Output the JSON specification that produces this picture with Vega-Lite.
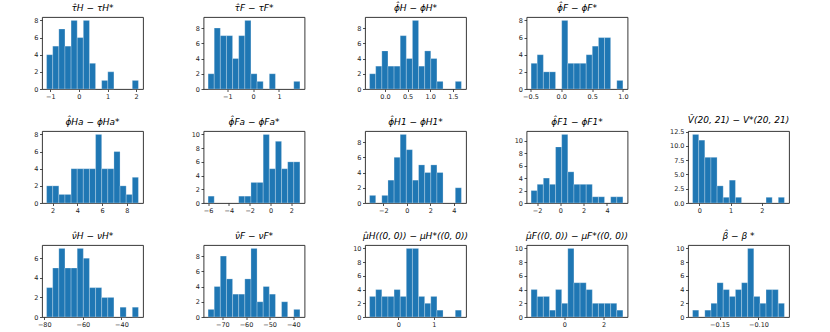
{
"$schema": "https://vega.github.io/schema/vega-lite/v6.json",
"padding": {"left": 33, "top": 3, "right": 5, "bottom": 5},
"background": "white",
"config": {
  "view": {"stroke": "#222", "strokeWidth": 0.9},
  "axis": {"domain": false, "grid": false, "tickColor": "#222", "tickSize": 2.5, "tickWidth": 0.8, "labelFontSize": 6.5, "labelColor": "#222", "labelFont": "DejaVu Sans", "labelPadding": 1.5, "title": null},
  "title": {"font": "DejaVu Sans", "fontSize": 9, "fontWeight": "normal", "fontStyle": "italic", "color": "#000", "offset": 4},
  "bar": {"color": "#1f77b4", "stroke": "#ffffff", "strokeOpacity": 0.35, "strokeWidth": 0.7}
},
"data": {"values": [
{"p":"A","x0":-1.13,"x1":-0.916,"c":4},{"p":"A","x0":-0.916,"x1":-0.702,"c":5},{"p":"A","x0":-0.702,"x1":-0.488,"c":7},{"p":"A","x0":-0.488,"x1":-0.274,"c":5},{"p":"A","x0":-0.274,"x1":-0.06,"c":8},{"p":"A","x0":-0.06,"x1":0.154,"c":6},{"p":"A","x0":0.154,"x1":0.368,"c":8},{"p":"A","x0":0.368,"x1":0.582,"c":3},{"p":"A","x0":0.796,"x1":1.01,"c":1},{"p":"A","x0":1.01,"x1":1.224,"c":2},{"p":"A","x0":1.866,"x1":2.08,"c":1},
{"p":"B","x0":-1.74,"x1":-1.503,"c":2},{"p":"B","x0":-1.503,"x1":-1.267,"c":8},{"p":"B","x0":-1.267,"x1":-1.03,"c":7},{"p":"B","x0":-1.03,"x1":-0.793,"c":7},{"p":"B","x0":-0.793,"x1":-0.557,"c":4},{"p":"B","x0":-0.557,"x1":-0.32,"c":7},{"p":"B","x0":-0.32,"x1":-0.083,"c":9},{"p":"B","x0":-0.083,"x1":0.153,"c":2},{"p":"B","x0":0.153,"x1":0.39,"c":1},{"p":"B","x0":0.627,"x1":0.863,"c":2},{"p":"B","x0":1.573,"x1":1.81,"c":1},
{"p":"C","x0":-0.34,"x1":-0.205,"c":2},{"p":"C","x0":-0.205,"x1":-0.069,"c":3},{"p":"C","x0":-0.069,"x1":0.066,"c":5},{"p":"C","x0":0.066,"x1":0.201,"c":3},{"p":"C","x0":0.201,"x1":0.337,"c":3},{"p":"C","x0":0.337,"x1":0.472,"c":7},{"p":"C","x0":0.472,"x1":0.607,"c":4},{"p":"C","x0":0.607,"x1":0.743,"c":9},{"p":"C","x0":0.743,"x1":0.878,"c":3},{"p":"C","x0":0.878,"x1":1.013,"c":5},{"p":"C","x0":1.013,"x1":1.149,"c":4},{"p":"C","x0":1.149,"x1":1.284,"c":1},{"p":"C","x0":1.555,"x1":1.69,"c":1},
{"p":"D","x0":-0.49,"x1":-0.391,"c":3},{"p":"D","x0":-0.391,"x1":-0.291,"c":4},{"p":"D","x0":-0.291,"x1":-0.192,"c":2},{"p":"D","x0":-0.192,"x1":-0.093,"c":2},{"p":"D","x0":0.007,"x1":0.106,"c":8},{"p":"D","x0":0.106,"x1":0.205,"c":3},{"p":"D","x0":0.205,"x1":0.305,"c":3},{"p":"D","x0":0.305,"x1":0.404,"c":3},{"p":"D","x0":0.404,"x1":0.503,"c":4},{"p":"D","x0":0.503,"x1":0.603,"c":5},{"p":"D","x0":0.603,"x1":0.702,"c":6},{"p":"D","x0":0.702,"x1":0.801,"c":6},{"p":"D","x0":0.901,"x1":1.0,"c":1},
{"p":"E","x0":1.52,"x1":2.015,"c":2},{"p":"E","x0":2.015,"x1":2.509,"c":2},{"p":"E","x0":2.509,"x1":3.004,"c":1},{"p":"E","x0":3.004,"x1":3.499,"c":1},{"p":"E","x0":3.499,"x1":3.993,"c":4},{"p":"E","x0":3.993,"x1":4.488,"c":4},{"p":"E","x0":4.488,"x1":4.983,"c":4},{"p":"E","x0":4.983,"x1":5.478,"c":4},{"p":"E","x0":5.478,"x1":5.972,"c":8},{"p":"E","x0":5.972,"x1":6.467,"c":4},{"p":"E","x0":6.467,"x1":6.962,"c":4},{"p":"E","x0":6.962,"x1":7.456,"c":6},{"p":"E","x0":7.456,"x1":7.951,"c":2},{"p":"E","x0":7.951,"x1":8.446,"c":1},{"p":"E","x0":8.446,"x1":8.94,"c":3},
{"p":"F","x0":-6.0,"x1":-5.411,"c":1},{"p":"F","x0":-3.057,"x1":-2.468,"c":1},{"p":"F","x0":-2.468,"x1":-1.879,"c":1},{"p":"F","x0":-1.879,"x1":-1.291,"c":3},{"p":"F","x0":-1.291,"x1":-0.702,"c":3},{"p":"F","x0":-0.702,"x1":-0.113,"c":10},{"p":"F","x0":-0.113,"x1":0.475,"c":5},{"p":"F","x0":0.475,"x1":1.064,"c":9},{"p":"F","x0":1.064,"x1":1.653,"c":5},{"p":"F","x0":1.653,"x1":2.241,"c":6},{"p":"F","x0":2.241,"x1":2.83,"c":6},
{"p":"G","x0":-3.16,"x1":-2.639,"c":1},{"p":"G","x0":-2.119,"x1":-1.598,"c":1},{"p":"G","x0":-1.598,"x1":-1.077,"c":3},{"p":"G","x0":-1.077,"x1":-0.557,"c":6},{"p":"G","x0":-0.557,"x1":-0.036,"c":9},{"p":"G","x0":-0.036,"x1":0.485,"c":7},{"p":"G","x0":0.485,"x1":1.005,"c":3},{"p":"G","x0":1.005,"x1":1.526,"c":5},{"p":"G","x0":1.526,"x1":2.047,"c":4},{"p":"G","x0":2.047,"x1":2.567,"c":5},{"p":"G","x0":2.567,"x1":3.088,"c":4},{"p":"G","x0":4.129,"x1":4.65,"c":2},
{"p":"H","x0":-2.51,"x1":-1.985,"c":2},{"p":"H","x0":-1.985,"x1":-1.459,"c":3},{"p":"H","x0":-1.459,"x1":-0.934,"c":4},{"p":"H","x0":-0.934,"x1":-0.409,"c":3},{"p":"H","x0":-0.409,"x1":0.117,"c":9},{"p":"H","x0":0.117,"x1":0.642,"c":11},{"p":"H","x0":0.642,"x1":1.167,"c":5},{"p":"H","x0":1.167,"x1":1.692,"c":3},{"p":"H","x0":1.692,"x1":2.218,"c":3},{"p":"H","x0":2.218,"x1":2.743,"c":3},{"p":"H","x0":2.743,"x1":3.268,"c":1},{"p":"H","x0":3.268,"x1":3.794,"c":1},{"p":"H","x0":4.319,"x1":4.845,"c":1},{"p":"H","x0":4.845,"x1":5.37,"c":1},
{"p":"I","x0":-0.213,"x1":-0.017,"c":12},{"p":"I","x0":-0.017,"x1":0.178,"c":11},{"p":"I","x0":0.178,"x1":0.374,"c":8},{"p":"I","x0":0.374,"x1":0.57,"c":8},{"p":"I","x0":0.57,"x1":0.766,"c":3},{"p":"I","x0":0.766,"x1":0.961,"c":1},{"p":"I","x0":0.961,"x1":1.157,"c":4},{"p":"I","x0":1.157,"x1":1.353,"c":1},{"p":"I","x0":2.136,"x1":2.332,"c":1},{"p":"I","x0":2.527,"x1":2.723,"c":1},
{"p":"J","x0":-78.8,"x1":-75.63,"c":3},{"p":"J","x0":-75.63,"x1":-72.45,"c":5},{"p":"J","x0":-72.45,"x1":-69.28,"c":7},{"p":"J","x0":-69.28,"x1":-66.11,"c":5},{"p":"J","x0":-66.11,"x1":-62.93,"c":5},{"p":"J","x0":-62.93,"x1":-59.76,"c":7},{"p":"J","x0":-59.76,"x1":-56.59,"c":6},{"p":"J","x0":-56.59,"x1":-53.41,"c":3},{"p":"J","x0":-53.41,"x1":-50.24,"c":3},{"p":"J","x0":-50.24,"x1":-47.07,"c":2},{"p":"J","x0":-47.07,"x1":-43.89,"c":2},{"p":"J","x0":-40.72,"x1":-37.55,"c":1},{"p":"J","x0":-34.37,"x1":-31.2,"c":1},
{"p":"K","x0":-76.06,"x1":-73.47,"c":1},{"p":"K","x0":-73.47,"x1":-70.88,"c":4},{"p":"K","x0":-70.88,"x1":-68.28,"c":8},{"p":"K","x0":-68.28,"x1":-65.69,"c":5},{"p":"K","x0":-65.69,"x1":-63.1,"c":3},{"p":"K","x0":-63.1,"x1":-60.51,"c":3},{"p":"K","x0":-60.51,"x1":-57.91,"c":5},{"p":"K","x0":-57.91,"x1":-55.32,"c":9},{"p":"K","x0":-55.32,"x1":-52.73,"c":2},{"p":"K","x0":-52.73,"x1":-50.14,"c":4},{"p":"K","x0":-50.14,"x1":-47.54,"c":3},{"p":"K","x0":-44.95,"x1":-42.36,"c":2},{"p":"K","x0":-39.77,"x1":-37.18,"c":1},
{"p":"L","x0":-0.812,"x1":-0.639,"c":3},{"p":"L","x0":-0.639,"x1":-0.467,"c":4},{"p":"L","x0":-0.467,"x1":-0.294,"c":3},{"p":"L","x0":-0.294,"x1":-0.121,"c":3},{"p":"L","x0":-0.121,"x1":0.052,"c":4},{"p":"L","x0":0.052,"x1":0.224,"c":3},{"p":"L","x0":0.224,"x1":0.397,"c":10},{"p":"L","x0":0.397,"x1":0.57,"c":10},{"p":"L","x0":0.57,"x1":0.742,"c":3},{"p":"L","x0":0.742,"x1":0.915,"c":2},{"p":"L","x0":0.915,"x1":1.088,"c":3},{"p":"L","x0":1.088,"x1":1.261,"c":1},{"p":"L","x0":1.606,"x1":1.779,"c":1},
{"p":"M","x0":-1.695,"x1":-1.383,"c":4},{"p":"M","x0":-1.383,"x1":-1.071,"c":3},{"p":"M","x0":-1.071,"x1":-0.759,"c":3},{"p":"M","x0":-0.759,"x1":-0.447,"c":1},{"p":"M","x0":-0.447,"x1":-0.136,"c":4},{"p":"M","x0":-0.136,"x1":0.176,"c":2},{"p":"M","x0":0.176,"x1":0.488,"c":10},{"p":"M","x0":0.488,"x1":0.8,"c":5},{"p":"M","x0":0.8,"x1":1.112,"c":5},{"p":"M","x0":1.112,"x1":1.424,"c":4},{"p":"M","x0":1.424,"x1":1.736,"c":2},{"p":"M","x0":1.736,"x1":2.047,"c":2},{"p":"M","x0":2.047,"x1":2.359,"c":2},{"p":"M","x0":2.359,"x1":2.671,"c":2},{"p":"M","x0":2.671,"x1":2.983,"c":1},
{"p":"N","x0":-0.1846,"x1":-0.1767,"c":1},{"p":"N","x0":-0.1689,"x1":-0.161,"c":1},{"p":"N","x0":-0.161,"x1":-0.1532,"c":2},{"p":"N","x0":-0.1532,"x1":-0.1453,"c":5},{"p":"N","x0":-0.1453,"x1":-0.1374,"c":4},{"p":"N","x0":-0.1374,"x1":-0.1296,"c":3},{"p":"N","x0":-0.1296,"x1":-0.1217,"c":4},{"p":"N","x0":-0.1217,"x1":-0.1139,"c":5},{"p":"N","x0":-0.1139,"x1":-0.106,"c":10},{"p":"N","x0":-0.106,"x1":-0.0981,"c":3},{"p":"N","x0":-0.0981,"x1":-0.0903,"c":2},{"p":"N","x0":-0.0903,"x1":-0.0824,"c":4},{"p":"N","x0":-0.0824,"x1":-0.0746,"c":4},{"p":"N","x0":-0.0746,"x1":-0.0667,"c":2}
]},
"columns": 5,
"spacing": {"row": 42, "column": 60.5},
"bounds": "flush",
"concat": [
 {"title": "τ̂H − τH*", "width": 101, "height": 72, "transform": [{"filter": "datum.p === 'A'"}], "mark": "bar",
  "encoding": {"x": {"field": "x0", "type": "quantitative", "scale": {"domain": [-1.2905, 2.2405], "nice": false, "zero": false}, "axis": {"values": [-1, 0, 1, 2]}}, "x2": {"field": "x1"},
   "y": {"field": "c", "type": "quantitative", "scale": {"domain": [0, 8.4], "nice": false}, "axis": {"values": [0, 2, 4, 6, 8]}}, "y2": {"datum": 0}}},
 {"title": "τ̂F − τF*", "width": 101, "height": 72, "transform": [{"filter": "datum.p === 'B'"}], "mark": "bar",
  "encoding": {"x": {"field": "x0", "type": "quantitative", "scale": {"domain": [-1.9175, 1.9875], "nice": false, "zero": false}, "axis": {"values": [-1, 0, 1]}}, "x2": {"field": "x1"},
   "y": {"field": "c", "type": "quantitative", "scale": {"domain": [0, 9.45], "nice": false}, "axis": {"values": [0, 2, 4, 6, 8]}}, "y2": {"datum": 0}}},
 {"title": "ϕ̂H − ϕH*", "width": 101, "height": 72, "transform": [{"filter": "datum.p === 'C'"}], "mark": "bar",
  "encoding": {"x": {"field": "x0", "type": "quantitative", "scale": {"domain": [-0.4415, 1.7915], "nice": false, "zero": false}, "axis": {"values": [0, 0.5, 1, 1.5], "format": ".1f"}}, "x2": {"field": "x1"},
   "y": {"field": "c", "type": "quantitative", "scale": {"domain": [0, 9.45], "nice": false}, "axis": {"values": [0, 2, 4, 6, 8]}}, "y2": {"datum": 0}}},
 {"title": "ϕ̂F − ϕF*", "width": 101, "height": 72, "transform": [{"filter": "datum.p === 'D'"}], "mark": "bar",
  "encoding": {"x": {"field": "x0", "type": "quantitative", "scale": {"domain": [-0.5645, 1.0745], "nice": false, "zero": false}, "axis": {"values": [-0.5, 0, 0.5, 1], "format": ".1f"}}, "x2": {"field": "x1"},
   "y": {"field": "c", "type": "quantitative", "scale": {"domain": [0, 8.4], "nice": false}, "axis": {"values": [0, 2, 4, 6, 8]}}, "y2": {"datum": 0}}},
 {"width": 101, "height": 72, "view": {"stroke": null}, "transform": [{"filter": "datum.p === 'Z'"}], "mark": "bar",
  "encoding": {"x": {"field": "x0", "type": "quantitative", "axis": null}, "y": {"field": "c", "type": "quantitative", "axis": null}}},
 {"title": "ϕ̂Ha − ϕHa*", "width": 101, "height": 72, "transform": [{"filter": "datum.p === 'E'"}], "mark": "bar",
  "encoding": {"x": {"field": "x0", "type": "quantitative", "scale": {"domain": [1.149, 9.311], "nice": false, "zero": false}, "axis": {"values": [2, 4, 6, 8]}}, "x2": {"field": "x1"},
   "y": {"field": "c", "type": "quantitative", "scale": {"domain": [0, 8.4], "nice": false}, "axis": {"values": [0, 2, 4, 6, 8]}}, "y2": {"datum": 0}}},
 {"title": "ϕ̂Fa − ϕFa*", "width": 101, "height": 72, "transform": [{"filter": "datum.p === 'F'"}], "mark": "bar",
  "encoding": {"x": {"field": "x0", "type": "quantitative", "scale": {"domain": [-6.4415, 3.2715], "nice": false, "zero": false}, "axis": {"values": [-6, -4, -2, 0, 2]}}, "x2": {"field": "x1"},
   "y": {"field": "c", "type": "quantitative", "scale": {"domain": [0, 10.5], "nice": false}, "axis": {"values": [0, 2, 4, 6, 8, 10]}}, "y2": {"datum": 0}}},
 {"title": "ϕ̂H1 − ϕH1*", "width": 101, "height": 72, "transform": [{"filter": "datum.p === 'G'"}], "mark": "bar",
  "encoding": {"x": {"field": "x0", "type": "quantitative", "scale": {"domain": [-3.5505, 5.0405], "nice": false, "zero": false}, "axis": {"values": [-2, 0, 2, 4]}}, "x2": {"field": "x1"},
   "y": {"field": "c", "type": "quantitative", "scale": {"domain": [0, 9.45], "nice": false}, "axis": {"values": [0, 2, 4, 6, 8]}}, "y2": {"datum": 0}}},
 {"title": "ϕ̂F1 − ϕF1*", "width": 101, "height": 72, "transform": [{"filter": "datum.p === 'H'"}], "mark": "bar",
  "encoding": {"x": {"field": "x0", "type": "quantitative", "scale": {"domain": [-2.904, 5.764], "nice": false, "zero": false}, "axis": {"values": [-2, 0, 2, 4]}}, "x2": {"field": "x1"},
   "y": {"field": "c", "type": "quantitative", "scale": {"domain": [0, 11.55], "nice": false}, "axis": {"values": [0, 2, 4, 6, 8, 10]}}, "y2": {"datum": 0}}},
 {"title": "V̂(20, 21) − V*(20, 21)", "width": 101, "height": 72, "transform": [{"filter": "datum.p === 'I'"}], "mark": "bar",
  "encoding": {"x": {"field": "x0", "type": "quantitative", "scale": {"domain": [-0.3598, 2.8698], "nice": false, "zero": false}, "axis": {"values": [0, 1, 2]}}, "x2": {"field": "x1"},
   "y": {"field": "c", "type": "quantitative", "scale": {"domain": [0, 12.6], "nice": false}, "axis": {"values": [0, 2.5, 5, 7.5, 10, 12.5], "format": ".1f"}}, "y2": {"datum": 0}}},
 {"title": "ν̂H − νH*", "width": 101, "height": 72, "transform": [{"filter": "datum.p === 'J'"}], "mark": "bar",
  "encoding": {"x": {"field": "x0", "type": "quantitative", "scale": {"domain": [-81.18, -28.82], "nice": false, "zero": false}, "axis": {"values": [-80, -60, -40]}}, "x2": {"field": "x1"},
   "y": {"field": "c", "type": "quantitative", "scale": {"domain": [0, 7.35], "nice": false}, "axis": {"values": [0, 2, 4, 6]}}, "y2": {"datum": 0}}},
 {"title": "ν̂F − νF*", "width": 101, "height": 72, "transform": [{"filter": "datum.p === 'K'"}], "mark": "bar",
  "encoding": {"x": {"field": "x0", "type": "quantitative", "scale": {"domain": [-78.004, -35.236], "nice": false, "zero": false}, "axis": {"values": [-70, -60, -50, -40]}}, "x2": {"field": "x1"},
   "y": {"field": "c", "type": "quantitative", "scale": {"domain": [0, 9.45], "nice": false}, "axis": {"values": [0, 2, 4, 6, 8]}}, "y2": {"datum": 0}}},
 {"title": "μ̂H((0, 0)) − μH*((0, 0))", "width": 101, "height": 72, "transform": [{"filter": "datum.p === 'L'"}], "mark": "bar",
  "encoding": {"x": {"field": "x0", "type": "quantitative", "scale": {"domain": [-0.94155, 1.90855], "nice": false, "zero": false}, "axis": {"values": [-1, 0, 1]}}, "x2": {"field": "x1"},
   "y": {"field": "c", "type": "quantitative", "scale": {"domain": [0, 10.5], "nice": false}, "axis": {"values": [0, 2, 4, 6, 8, 10]}}, "y2": {"datum": 0}}},
 {"title": "μ̂F((0, 0)) − μF*((0, 0))", "width": 101, "height": 72, "transform": [{"filter": "datum.p === 'M'"}], "mark": "bar",
  "encoding": {"x": {"field": "x0", "type": "quantitative", "scale": {"domain": [-1.9289, 3.2169], "nice": false, "zero": false}, "axis": {"values": [0, 2]}}, "x2": {"field": "x1"},
   "y": {"field": "c", "type": "quantitative", "scale": {"domain": [0, 10.5], "nice": false}, "axis": {"values": [0, 2, 4, 6, 8, 10]}}, "y2": {"datum": 0}}},
 {"title": "β̂ − β *", "width": 101, "height": 72, "transform": [{"filter": "datum.p === 'N'"}], "mark": "bar",
  "encoding": {"x": {"field": "x0", "type": "quantitative", "scale": {"domain": [-0.190495, -0.060805], "nice": false, "zero": false}, "axis": {"values": [-0.15, -0.1], "format": ".2f"}}, "x2": {"field": "x1"},
   "y": {"field": "c", "type": "quantitative", "scale": {"domain": [0, 10.5], "nice": false}, "axis": {"values": [0, 2, 4, 6, 8, 10]}}, "y2": {"datum": 0}}}
]
}
